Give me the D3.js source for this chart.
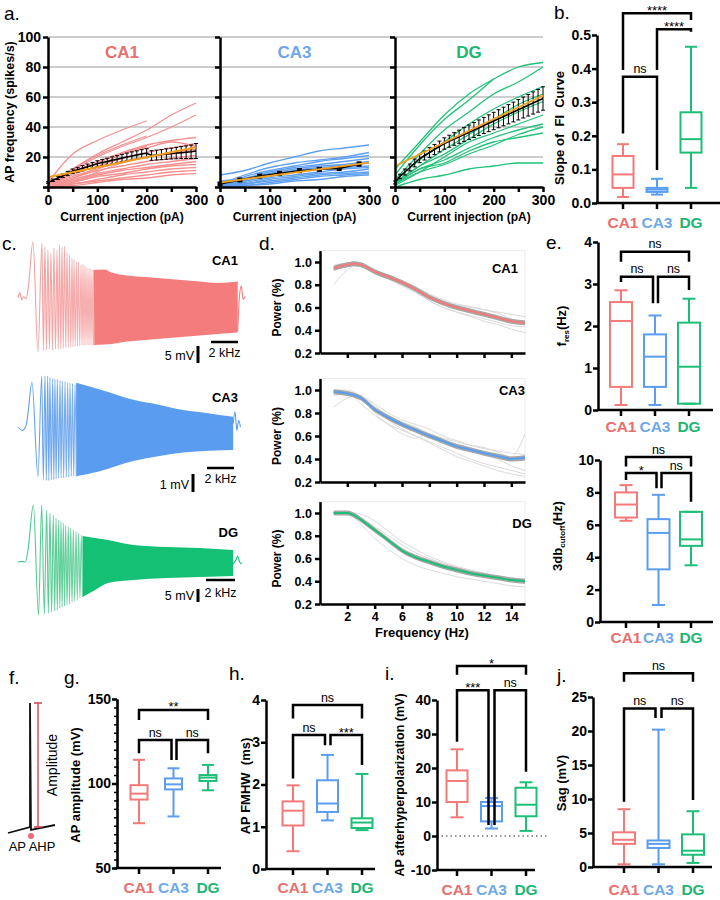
<!DOCTYPE html>
<html>
<head>
<meta charset="utf-8">
<script src="https://cdn.jsdelivr.net/npm/d3@7"></script>
<style>
  body { margin: 0; background: #fff; }
  text { font-family: 'Liberation Sans', Arial, sans-serif; }
</style>
</head>
<body>
<svg id="fig" width="720" height="900"></svg>
<script>
// ---------------- data ----------------
const groups = ["CA1", "CA3", "DG"]

// a. FI curves, single cells sampled every 50 pA
const fiX = [0, 50, 100, 150, 200, 250, 300]
const ca1Cells = [
  [3, 22, 31, 38, 44, null, null],
  [2, 12, 22, 30, 38, 48, 56],
  [2, 11, 20, 27, 33, 40, 48],
  [2, 12, 21, 28, 34, null, null],
  [1, 10, 17, 23, 28, 31, 33],
  [1, 9, 16, 22, 26, 30, 27],
  [1, 8, 14, 19, 23, 26, 29],
  [1, 7, 12, 17, 20, 23, 25],
  [1, 6, 11, 14, 17, 19, 21],
  [0, 5, 9, 12, 15, 17, 19],
  [0, 4, 8, 11, 13, 15, 17],
  [0, 3, 7, 9, 12, 14, 15],
  [0, 2, 5, 8, 10, 12, 13],
  [0, 2, 4, 6, 8, 10, 11],
  [0, 1, 3, 5, 6, 8, 9],
  [1, 6, 13, 22, 27, null, null],
  [0, 3, 10, 16, 20, 22, 24]
]
const ca3Cells = [
  [8, 11, 16, 20, 24, 26, 28],
  [2, 8, 13, 16, 18, 20, 23],
  [1, 7, 11, 14, 17, 19, 21],
  [4, 6, 10, 13, 15, 17, 19],
  [1, 5, 9, 12, 14, 15, 17],
  [1, 4, 8, 11, 13, 14, 16],
  [0, 4, 7, 10, 12, 13, 14],
  [0, 3, 6, 8, 10, 12, 13],
  [0, 2, 5, 7, 9, 10, 12],
  [0, 2, 4, 6, 8, 9, 10],
  [0, 1, 3, 5, 7, 8, 9],
  [0, 1, 2, 4, 5, 7, 8]
]
const dgCells = [
  [12, 30, 48, 62, 72, 80, 83],
  [8, 28, 45, 58, 72, null, null],
  [5, 22, 38, 50, 62, 70, 80],
  [4, 18, 30, 42, 52, 60, 67],
  [3, 14, 25, 35, 45, 55, 62],
  [3, 14, 22, 32, 42, 50, 57],
  [2, 12, 18, 26, 33, 38, 42],
  [2, 10, 15, 22, 28, 35, 40],
  [2, 12, 16, 24, 30, 33, 36],
  [0, 5, 8, 12, 14, 16, 16],
  [1, 10, 20, 30, 36, 42, 48]
]
// group means +- SEM every 10 pA (CA3 every 40 pA)
const meanX10 = [0,10,20,30,40,50,60,70,80,90,100,110,120,130,140,150,160,170,180,190,200,210,220,230,240,250,260,270,280,290,300]
const ca1Mean = [3,4.5,6,7.5,9,10.5,11.5,12.5,13.5,14.5,15.5,16.3,17,17.8,18.5,19.3,20,20.7,21.3,22,22.5,21,21.3,21.6,22,22.3,22.6,22.9,23.2,23.5,24]
const ca1Sem = [0.5,0.8,1,1.2,1.4,1.5,1.6,1.7,1.8,1.9,2,2.1,2.2,2.3,2.4,2.5,2.6,2.7,2.8,2.9,3,3.2,3.3,3.4,3.5,3.6,3.8,4,4.2,4.5,5]
const dgMean = [3,7,10,13,16,19,21,23,25,27,29,30.5,32,33.5,35,36.5,38,39.5,41,42.5,44,45.5,47,48.5,50,51.5,53,54.5,56,57.5,59]
const dgSem = [1,1.5,2,2.3,2.6,2.8,3,3.2,3.4,3.6,3.8,4,4.2,4.4,4.6,4.8,5,5.2,5.4,5.6,5.8,6,6.2,6.4,6.6,6.8,7,7.2,7.4,7.6,7.8]
const ca3MeanX = [0, 40, 80, 120, 160, 200, 240, 280]
const ca3Mean = [2, 4.7, 7.3, 9.1, 10.9, 11.8, 12.4, 15.3]
const ca3Sem = [0.5, 0.8, 1, 1, 1.1, 1.2, 1.2, 1.3]
// linear fits, value at 0 and 300 pA
const ca1Fit = [6.5, 26.5]
const ca3Fit = [3, 16.2]
const dgFit = [14, 61]

// box plots: [min, q1, median, q3, max] for CA1, CA3, DG
const fiSlope = [[0.018, 0.045, 0.085, 0.14, 0.175], [0.025, 0.033, 0.04, 0.045, 0.072], [0.045, 0.15, 0.19, 0.27, 0.465]]
const fRes = [[0.12, 0.55, 2.12, 2.57, 2.85], [0.12, 0.55, 1.27, 1.8, 2.25], [0.15, 0.15, 1.03, 2.08, 2.65]]
const cutoff3db = [[6.25, 6.45, 7.25, 8.0, 8.45], [1.05, 3.25, 5.5, 6.35, 7.85], [3.5, 4.7, 5.1, 6.8, 6.8]]
const apAmp = [[76.5, 90.5, 94, 99, 114], [80.5, 96.5, 99.5, 103, 109], [96, 101.5, 103.5, 105, 111]]
const apFwhm = [[0.42, 1.03, 1.38, 1.6, 1.98], [1.15, 1.35, 1.55, 2.1, 2.7], [0.92, 0.97, 1.1, 1.2, 2.25]]
const apAhp = [[5.5, 10, 16.2, 19.3, 25.5], [2.2, 4.3, 8.8, 10, 11.2], [1.5, 5.8, 9.2, 14.2, 15.8]]
const sagVals = [[0.4, 3.4, 4.0, 5.1, 8.5], [0.4, 2.8, 3.4, 3.9, 20.2], [0.6, 1.8, 2.4, 4.8, 8.2]]

// d. impedance profiles
const freqs = [1, 2, 2.5, 3, 4, 5, 6, 7, 8, 9, 10, 11, 12, 13, 14, 15]
const ca1Power = [0.945, 0.975, 0.985, 0.975, 0.915, 0.87, 0.82, 0.76, 0.69, 0.64, 0.60, 0.57, 0.54, 0.51, 0.48, 0.465]
const ca3Power = [0.985, 0.97, 0.955, 0.93, 0.83, 0.76, 0.70, 0.65, 0.60, 0.555, 0.51, 0.48, 0.45, 0.425, 0.40, 0.41]
const dgPower = [1.0, 1.0, 0.98, 0.94, 0.85, 0.76, 0.67, 0.61, 0.57, 0.53, 0.50, 0.47, 0.45, 0.43, 0.41, 0.40]
const ca1PowerCells = [
  [0.80, 0.93, 0.96, 0.96, 0.90, 0.85, 0.80, 0.74, 0.66, 0.60, 0.56, 0.53, 0.50, 0.47, 0.44, 0.43],
  [0.97, 0.99, 0.99, 0.98, 0.93, 0.88, 0.83, 0.78, 0.72, 0.67, 0.63, 0.61, 0.58, 0.56, 0.54, 0.52],
  [0.93, 0.96, 0.97, 0.96, 0.90, 0.85, 0.79, 0.73, 0.66, 0.60, 0.56, 0.52, 0.48, 0.45, 0.41, 0.38],
  [0.95, 0.97, 0.98, 0.97, 0.92, 0.88, 0.83, 0.78, 0.71, 0.65, 0.62, 0.60, 0.58, 0.55, 0.50, 0.47]
]
const ca3PowerCells = [
  [0.85, 0.93, 0.95, 0.94, 0.80, 0.70, 0.62, 0.58, 0.62, 0.55, 0.50, 0.48, 0.44, 0.40, 0.34, 0.30],
  [1.0, 1.0, 0.98, 0.95, 0.88, 0.80, 0.74, 0.70, 0.66, 0.60, 0.56, 0.52, 0.49, 0.47, 0.45, 0.44],
  [0.97, 0.96, 0.94, 0.88, 0.78, 0.70, 0.65, 0.60, 0.55, 0.50, 0.45, 0.40, 0.36, 0.33, 0.30, 0.27],
  [0.99, 0.98, 0.97, 0.95, 0.86, 0.78, 0.72, 0.68, 0.62, 0.58, 0.55, 0.52, 0.50, 0.46, 0.42, 0.62],
  [0.95, 0.97, 0.96, 0.93, 0.84, 0.74, 0.66, 0.60, 0.54, 0.48, 0.42, 0.38, 0.34, 0.30, 0.27, 0.25]
]
const dgPowerCells = [
  [1.0, 1.0, 1.0, 0.99, 0.93, 0.84, 0.75, 0.68, 0.62, 0.57, 0.53, 0.50, 0.47, 0.45, 0.43, 0.42],
  [1.0, 0.99, 0.96, 0.90, 0.78, 0.68, 0.60, 0.54, 0.50, 0.47, 0.44, 0.42, 0.40, 0.38, 0.36, 0.35],
  [1.0, 1.0, 0.99, 0.96, 0.88, 0.80, 0.72, 0.65, 0.60, 0.56, 0.52, 0.49, 0.46, 0.43, 0.40, 0.38]
]

// c. chirp responses: resolved early extremes [t, mV], envelope of the dense part, and tail
const ca1Early = [[0,0],[0.2,1.8],[0.4,-0.6],[0.6,0.4],[0.9,-0.3],[1.15,4],[1.65,18.7],[2.2,-18],
  [2.64,18.3],[2.8,-17.5],[2.97,17],[3.13,-17.3],[3.3,16],[3.46,-17],[3.63,15],[3.8,-17.3],[3.96,16.7],[4.13,-17],
  [4.3,16],[4.43,-17],[4.57,17.7],[4.71,-17],[4.85,17],[4.98,-16.8],[5.12,17.3],[5.26,-16.5],[5.4,15],[5.53,-16.5],
  [5.67,14.3],[5.81,-16.3],[5.95,13.3],[6.06,-16.3],[6.17,12.7],[6.3,-16],[6.44,12],[6.55,-16],[6.66,12],[6.8,-16],
  [6.94,11],[7.05,-15.8],[7.16,11.3],[7.27,-15.8],[7.38,10.7],[7.49,-15.7],[7.6,10],[7.71,-15.7],[7.82,10],[7.93,-15.6],
  [8.04,9.7],[8.15,-15.6],[8.26,9.3],[8.37,-15.5]]
const ca1Band = {t: [8.3, 9.5, 10.3, 12, 14, 16, 18, 20, 22, 24.2],
  hi: [9.3, 9.5, 8.5, 7.5, 7, 6.5, 6, 5.5, 5, 5.5],
  lo: [-15.7, -15.5, -15.3, -14.5, -14, -13.5, -13, -12.5, -12, -11.5]}
const ca1Tail = [[24.2, -11], [24.4, 1], [24.6, 4], [24.8, -0.5], [25, 0.5]]

const ca3Early = [[0,0],[0.5,-0.2],[0.9,0.1],[1.1,0.8],[1.54,2.65],[2.2,-2.9],
  [2.61,3.0],[2.79,-3.1],[2.97,3.0],[3.12,-3.15],[3.27,3.0],[3.4,-3.15],[3.52,2.9],[3.67,-3.1],[3.82,2.85],[3.95,-3.1],
  [4.07,2.8],[4.2,-3.05],[4.33,2.8],[4.48,-3.0],[4.63,2.75],[4.75,-3.0],[4.88,2.7],[5.03,-3.0],[5.18,2.65],[5.32,-2.95],
  [5.47,2.6],[5.6,-2.95],[5.73,2.6],[5.87,-2.9],[6.0,2.55],[6.14,-2.9],[6.28,2.5],[6.42,-2.9]]
const ca3Band = {t: [6.4, 9.0, 12.7, 15.6, 18.2, 21.1, 23.7],
  hi: [2.6, 2.2, 1.6, 1.3, 1.0, 0.8, 0.6],
  lo: [-2.9, -2.6, -2.0, -1.7, -1.5, -1.4, -1.35]}
const ca3Tail = [[23.7, 0.2], [23.9, 0.9], [24.1, -0.2], [24.3, 0.4], [24.5, 0]]

const dgEarly = [[0,0],[0.5,0.3],[0.8,0],[1.1,6],[1.69,28.5],[2.26,-26.5],
  [2.61,28.5],[2.9,-26],[3.16,26],[3.34,-25.5],[3.52,24.3],[3.7,-25],[3.89,23.5],[4.04,-24.5],[4.19,22],[4.33,-24],
  [4.48,21],[4.61,-23],[4.74,20.2],[4.86,-22.5],[4.99,19.5],[5.12,-22],[5.25,18.5],[5.4,-21.5],[5.54,17.7],[5.67,-21],
  [5.81,17],[5.95,-20],[6.09,16],[6.24,-19.5],[6.39,15.2],[6.53,-19],[6.68,14.5],[6.82,-18],[6.97,13.5],[7.1,-17.5]]
const dgBand = {t: [7.1, 8.5, 9.9, 12.7, 16.4, 20.0, 23.7],
  hi: [13, 12, 11, 8.5, 7.5, 7, 6],
  lo: [-17.5, -14, -10.5, -9, -8, -7.5, -7]}
const dgTail = [[23.7, -1], [24, 1], [24.2, 3], [24.4, 0], [24.65, -1]]

// ---------------- drawing ----------------
const svg = d3.select("#fig")
const lineCol = {CA1: "#f47a7a", CA3: "#5b9df0", DG: "#1dbf76"}
const textCol = {CA1: "#e96e6e", CA3: "#6ea8e8", DG: "#1fb673"}

function styleAxis(g, w, fs) {
  g.select(".domain").attr("stroke", "#000").attr("stroke-width", w)
  g.selectAll(".tick line").attr("stroke", "#000").attr("stroke-width", w)
  g.selectAll(".tick text").attr("font-size", fs).attr("font-weight", "bold").attr("fill", "#000")
}

function label(x, y, s, size, opts) {
  opts = opts || {}
  return svg.append("text")
    .attr("x", x).attr("y", y)
    .attr("font-size", size)
    .attr("font-weight", opts.bold ? "bold" : "normal")
    .attr("text-anchor", opts.anchor || "start")
    .attr("fill", opts.fill || "#000")
    .text(s)
}

function vlabel(x, y, s, size) {
  return svg.append("text")
    .attr("transform", "translate(" + x + "," + y + ") rotate(-90)")
    .attr("text-anchor", "middle")
    .attr("font-size", size)
    .attr("font-weight", "bold")
    .attr("xml:space", "preserve")
    .text(s)
}

// panel letters
label(4, 20, "a.", 19)
label(554, 19, "b.", 19)
label(2, 250, "c.", 19)
label(259, 250, "d.", 19)
label(546, 249, "e.", 19)
label(9, 684, "f.", 19)
label(64, 684, "g.", 19)
label(229, 680, "h.", 19)
label(385, 680, "i.", 19)
label(557, 682, "j.", 19)

// ---------- a. FI curves ----------
let yFI = d3.scaleLinear().domain([0, 100]).range([187, 37])
let fiPanels = [
  {name: "CA1", x0: 48, x1: 196, cells: ca1Cells, mx: meanX10, mean: ca1Mean, sem: ca1Sem, fit: ca1Fit, cellColor: "#f59090", showY: true},
  {name: "CA3", x0: 220, x1: 369, cells: ca3Cells, mx: ca3MeanX, mean: ca3Mean, sem: ca3Sem, fit: ca3Fit, cellColor: "#5fa1f0", marker: true},
  {name: "DG", x0: 395, x1: 543, cells: dgCells, mx: meanX10, mean: dgMean, sem: dgSem, fit: dgFit, cellColor: "#22c27a"}
]

svg.append("g").selectAll("line")
  .data([20, 40, 60, 80, 100])
  .join("line")
    .attr("x1", 48).attr("x2", 543)
    .attr("y1", d => yFI(d)).attr("y2", d => yFI(d))
    .attr("stroke", "#9b9b9b").attr("stroke-width", 1)

fiPanels.forEach(p => {
  let x = d3.scaleLinear().domain([0, 300]).range([p.x0, p.x1])
  let g = svg.append("g")
  let cellLine = d3.line()
    .defined(d => d[1] != null)
    .x(d => x(d[0])).y(d => yFI(d[1]))
    .curve(d3.curveMonotoneX)

  g.selectAll(".cell")
    .data(p.cells)
    .join("path")
      .attr("d", c => cellLine(c.map((v, i) => [fiX[i], v])))
      .attr("fill", "none")
      .attr("stroke", p.cellColor)
      .attr("stroke-width", 1.3)

  let pts = p.mean.map((v, i) => ({x: p.mx[i], y: v, e: p.sem[i]}))
  g.append("path")
    .attr("d", d3.line().x(d => x(d.x)).y(d => yFI(d.y))(pts))
    .attr("fill", "none").attr("stroke", "#000").attr("stroke-width", 1.5)
  let eb = g.selectAll(".eb").data(pts).join("g")
  eb.append("line")
    .attr("x1", d => x(d.x)).attr("x2", d => x(d.x))
    .attr("y1", d => yFI(d.y - d.e)).attr("y2", d => yFI(d.y + d.e))
    .attr("stroke", "#000").attr("stroke-width", 1)
  eb.append("line")
    .attr("x1", d => x(d.x) - 2).attr("x2", d => x(d.x) + 2)
    .attr("y1", d => yFI(d.y + d.e)).attr("y2", d => yFI(d.y + d.e))
    .attr("stroke", "#000").attr("stroke-width", 1)
  eb.append("line")
    .attr("x1", d => x(d.x) - 2).attr("x2", d => x(d.x) + 2)
    .attr("y1", d => yFI(d.y - d.e)).attr("y2", d => yFI(d.y - d.e))
    .attr("stroke", "#000").attr("stroke-width", 1)
  if (p.marker) {
    eb.append("rect")
      .attr("x", d => x(d.x) - 2.5).attr("y", d => yFI(d.y) - 2.5)
      .attr("width", 5).attr("height", 5).attr("fill", "#000")
  }

  g.append("line")
    .attr("x1", x(0)).attr("x2", x(300))
    .attr("y1", yFI(p.fit[0])).attr("y2", yFI(p.fit[1]))
    .attr("stroke", "#f0a020").attr("stroke-width", 1.8)

  let gx = g.append("g")
    .attr("transform", "translate(0," + yFI(0) + ")")
    .call(d3.axisBottom(x).tickValues([0, 50, 100, 150, 200, 250, 300]).tickSize(5).tickSizeOuter(0)
      .tickFormat(d => d % 100 === 0 ? d : ""))
  styleAxis(gx, 2.5, 14)
  let gy = g.append("g")
    .attr("transform", "translate(" + p.x0 + ",0)")
    .call(d3.axisLeft(yFI).tickValues([0, 20, 40, 60, 80, 100]).tickSize(5).tickSizeOuter(0).tickPadding(2)
      .tickFormat(d => p.showY && d > 0 ? d : ""))
  styleAxis(gy, 2.5, 14)

  label((p.x0 + p.x1) / 2, 58, p.name, 17, {bold: true, anchor: "middle", fill: textCol[p.name]})
  label((p.x0 + p.x1) / 2, 221, "Current injection (pA)", 12, {bold: true, anchor: "middle"})
})
vlabel(14, 112, "AP frequency (spikes/s)", 12.5)

// ---------- box plot panels ----------
function boxPanel(cfg) {
  let g = svg.append("g")
  let y = d3.scaleLinear().domain(cfg.domain).range(cfg.yRange)
  let x = d3.scalePoint().domain(groups).range(cfg.xRange)
  let bw = cfg.boxW, cw = cfg.capW

  cfg.data.forEach((d, i) => {
    let name = groups[i], cx = x(name), c = lineCol[name]
    let lo = d[0], q1 = d[1], med = d[2], q3 = d[3], hi = d[4]
    let s = {stroke: c, "stroke-width": 2, fill: "none"}
    let add = (tag, attrs) => {
      let el = g.append(tag)
      Object.entries(Object.assign({}, s, attrs)).forEach(([k, v]) => el.attr(k, v))
    }
    add("line", {x1: cx, x2: cx, y1: y(lo), y2: y(q1)})
    add("line", {x1: cx, x2: cx, y1: y(q3), y2: y(hi)})
    add("line", {x1: cx - cw / 2, x2: cx + cw / 2, y1: y(lo), y2: y(lo)})
    add("line", {x1: cx - cw / 2, x2: cx + cw / 2, y1: y(hi), y2: y(hi)})
    add("rect", {x: cx - bw / 2, y: y(q3), width: bw, height: Math.max(0.5, y(q1) - y(q3))})
    add("line", {x1: cx - bw / 2, x2: cx + bw / 2, y1: y(med), y2: y(med)})
  })

  if (cfg.zeroLine) {
    g.append("line")
      .attr("x1", cfg.axisX).attr("x2", cfg.zeroLine)
      .attr("y1", y(0)).attr("y2", y(0))
      .attr("stroke", "#333").attr("stroke-width", 1.2)
      .attr("stroke-dasharray", "1.5,3")
  }

  if (cfg.minor) {
    let gm = g.append("g")
      .attr("transform", "translate(" + cfg.axisX + ",0)")
      .call(d3.axisLeft(y).tickValues(cfg.minor).tickSize(3).tickSizeOuter(0).tickFormat(""))
    styleAxis(gm, 1.5, 12)
  }
  let gy = g.append("g")
    .attr("transform", "translate(" + cfg.axisX + ",0)")
    .call(d3.axisLeft(y).tickValues(cfg.ticks).tickSize(5).tickPadding(1).tickSizeOuter(0).tickFormat(cfg.fmt || (d => d)))
  styleAxis(gy, 2.5, 14)

  let y0 = y(cfg.domain[0])
  g.append("line")
    .attr("x1", cfg.axisX - 1).attr("x2", cfg.xEnd)
    .attr("y1", y0).attr("y2", y0)
    .attr("stroke", "#000").attr("stroke-width", 2.5)
  groups.forEach(name => {
    g.append("line")
      .attr("x1", x(name)).attr("x2", x(name))
      .attr("y1", y0).attr("y2", y0 + 6)
      .attr("stroke", "#000").attr("stroke-width", 2.5)
    g.append("text")
      .attr("x", x(name)).attr("y", cfg.catY)
      .attr("text-anchor", "middle")
      .attr("font-size", 15.5).attr("font-weight", "bold")
      .attr("fill", textCol[name])
      .text(name)
  })

  cfg.brackets.forEach(b => {
    let xa = x(b.a) + (b.da || 0), xb = x(b.b) + (b.db || 0)
    g.append("path")
      .attr("d", "M" + xa + "," + y(b.legA) + "V" + y(b.top) + "H" + xb + "V" + y(b.legB))
      .attr("fill", "none").attr("stroke", "#000").attr("stroke-width", 2.5)
    let star = b.label[0] === "*"
    g.append("text")
      .attr("x", (xa + xb) / 2)
      .attr("y", star ? y(b.top) + 1.5 : y(b.top) - 3.5)
      .attr("text-anchor", "middle")
      .attr("font-size", star ? 13 : 12.5)
      .text(b.label)
  })
  return {g: g, y: y}
}

// b. slope of FI curve
boxPanel({
  domain: [0, 0.5], yRange: [203, 35], xRange: [623, 691], axisX: 597, xEnd: 720,
  data: fiSlope, boxW: 21, capW: 12, ticks: [0, 0.1, 0.2, 0.3, 0.4, 0.5], fmt: d3.format(".1f"), catY: 228,
  brackets: [
    {a: "CA1", b: "CA3", top: 0.376, legA: 0.207, legB: 0.098, label: "ns"},
    {a: "CA3", b: "DG", top: 0.517, legA: 0.396, legB: 0.51, label: "****"},
    {a: "CA1", b: "DG", top: 0.565, legA: 0.396, legB: 0.545, label: "****"}
  ]
})
vlabel(564, 128, "Slope of  FI  Curve", 13)

// e. resonance frequency
boxPanel({
  domain: [0, 4], yRange: [410, 242], xRange: [621, 689], axisX: 598, xEnd: 713,
  data: fRes, boxW: 22, capW: 13, ticks: [0, 1, 2, 3, 4], catY: 432,
  brackets: [
    {a: "CA1", b: "CA3", db: -2, top: 3.17, legA: 3.05, legB: 2.54, label: "ns"},
    {a: "CA3", b: "DG", da: 3, top: 3.17, legA: 2.54, legB: 2.86, label: "ns"},
    {a: "CA1", b: "DG", top: 3.77, legA: 3.53, legB: 3.53, label: "ns"}
  ]
})
let fr = svg.append("text")
  .attr("transform", "translate(566,326) rotate(-90)")
  .attr("text-anchor", "middle").attr("font-size", 13).attr("font-weight", "bold")
fr.append("tspan").text("f")
fr.append("tspan").attr("font-size", 8).attr("dy", 3).text("res")
fr.append("tspan").attr("dy", -3).text("(Hz)")

// e. 3 dB cutoff
boxPanel({
  domain: [0, 10], yRange: [622, 460], xRange: [626, 691], axisX: 600, xEnd: 713,
  data: cutoff3db, boxW: 22, capW: 13, ticks: [0, 2, 4, 6, 8, 10], catY: 643,
  brackets: [
    {a: "CA1", b: "CA3", db: -2, top: 9.19, legA: 8.77, legB: 8.26, label: "*"},
    {a: "CA3", b: "DG", da: 3, top: 9.19, legA: 8.26, legB: 7.43, label: "ns"},
    {a: "CA1", b: "DG", top: 10.18, legA: 9.6, legB: 9.6, label: "ns"}
  ]
})
let cu = svg.append("text")
  .attr("transform", "translate(562,536) rotate(-90)")
  .attr("text-anchor", "middle").attr("font-size", 13).attr("font-weight", "bold")
cu.append("tspan").text("3db")
cu.append("tspan").attr("font-size", 8).attr("dy", 3).text("cutoff")
cu.append("tspan").attr("dy", -3).text("(Hz)")

// g. AP amplitude
boxPanel({
  domain: [50, 150], yRange: [868, 699], xRange: [139, 208], axisX: 117, xEnd: 221,
  data: apAmp, boxW: 17, capW: 12, ticks: [50, 100, 150], minor: d3.range(50, 151, 5), catY: 893,
  brackets: [
    {a: "CA1", b: "CA3", db: -2, top: 125.7, legA: 117.9, legB: 113.9, label: "ns"},
    {a: "CA3", b: "DG", da: 3, top: 125.7, legA: 113.9, legB: 117.9, label: "ns"},
    {a: "CA1", b: "DG", top: 143.5, legA: 137.6, legB: 137.6, label: "**"}
  ]
})
vlabel(80, 785, "AP amplitude (mV)", 13)

// h. AP FWHM
boxPanel({
  domain: [0, 4], yRange: [869, 700], xRange: [293, 362], axisX: 266, xEnd: 375,
  data: apFwhm, boxW: 21, capW: 13, ticks: [0, 1, 2, 3, 4], catY: 893,
  brackets: [
    {a: "CA1", b: "CA3", db: -2.5, top: 3.17, legA: 2.14, legB: 2.93, label: "ns"},
    {a: "CA3", b: "DG", da: 3, top: 3.17, legA: 2.93, legB: 2.46, label: "***"},
    {a: "CA1", b: "DG", top: 3.88, legA: 3.56, legB: 3.56, label: "ns"}
  ]
})
vlabel(250, 786, "AP FMHW  (ms)", 13)

// i. AHP
boxPanel({
  domain: [-10, 40], yRange: [870, 700], xRange: [457, 526], axisX: 437, xEnd: 535, zeroLine: 547,
  data: apAhp, boxW: 21, capW: 13, ticks: [-10, 0, 10, 20, 30, 40], catY: 895,
  brackets: [
    {a: "CA1", b: "CA3", db: -3, top: 42.9, legA: 27.7, legB: 3.2, label: "***"},
    {a: "CA3", b: "DG", da: 3, top: 42.9, legA: 3.2, legB: 18.9, label: "ns"},
    {a: "CA1", b: "DG", top: 50, legA: 47.4, legB: 47.4, label: "*"}
  ]
})
vlabel(404, 785, "AP afterhyperpolarization (mV)", 12.5)

// j. sag
boxPanel({
  domain: [0, 25], yRange: [867, 697], xRange: [624, 693], axisX: 593, xEnd: 712,
  data: sagVals, boxW: 22, capW: 13, ticks: [0, 5, 10, 15, 20, 25], catY: 895,
  brackets: [
    {a: "CA1", b: "CA3", db: -3, top: 23.3, legA: 9.6, legB: 21.9, label: "ns"},
    {a: "CA3", b: "DG", da: 3, top: 23.3, legA: 21.9, legB: 9.85, label: "ns"},
    {a: "CA1", b: "DG", top: 28.5, legA: 27.25, legB: 27.25, label: "ns"}
  ]
})
vlabel(566, 783, "Sag (mV)", 13)

// ---------- c. chirp traces ----------
let trX = d3.scaleLinear().domain([0, 25]).range([18, 245])
let defs = svg.append("defs")
function drawTrace(cfg) {
  let grad = defs.append("linearGradient")
    .attr("id", cfg.id).attr("gradientUnits", "userSpaceOnUse")
    .attr("x1", 18).attr("x2", 245).attr("y1", 0).attr("y2", 0)
  cfg.stops.forEach(s => grad.append("stop").attr("offset", s[0]).attr("stop-color", s[1]))
  let y = d3.scaleLinear().domain([0, 1]).range([cfg.base, cfg.base - cfg.pxPerMv])
  let line = d3.line().x(d => trX(d[0])).y(d => y(d[1])).curve(d3.curveMonotoneX)
  let band = cfg.band.t.map((t, i) => ({t: t, hi: cfg.band.hi[i], lo: cfg.band.lo[i]}))
  svg.append("path")
    .attr("d", d3.area().x(d => trX(d.t)).y0(d => y(d.lo)).y1(d => y(d.hi)).curve(d3.curveMonotoneX)(band))
    .attr("fill", cfg.bandColor)
  svg.append("path")
    .attr("d", line(cfg.early))
    .attr("fill", "none").attr("stroke", "url(#" + cfg.id + ")").attr("stroke-width", 1.1)
  svg.append("path")
    .attr("d", line(cfg.tail))
    .attr("fill", "none").attr("stroke", cfg.bandColor).attr("stroke-width", 1.1)
}
drawTrace({id: "gCA1", early: ca1Early, band: ca1Band, tail: ca1Tail, base: 298, pxPerMv: 3,
  bandColor: "#f47c7c", stops: [[0, "#f49a9a"], [0.35, "#f7b3b3"], [0.55, "#f59494"], [1, "#f47c7c"]]})
drawTrace({id: "gCA3", early: ca3Early, band: ca3Band, tail: ca3Tail, base: 427, pxPerMv: 17,
  bandColor: "#5a9cf0", stops: [[0, "#5a9cf0"], [0.35, "#8bb8ef"], [0.55, "#6aa6f0"], [1, "#5a9cf0"]]})
drawTrace({id: "gDG", early: dgEarly, band: dgBand, tail: dgTail, base: 562, pxPerMv: 2,
  bandColor: "#14c074", stops: [[0, "#3ec886"], [0.35, "#7fd6ab"], [0.55, "#2cc47e"], [1, "#14c074"]]})

label(238, 265, "CA1", 13, {bold: true, anchor: "end"})
label(238, 402, "CA3", 13, {bold: true, anchor: "end"})
label(238, 537, "DG", 13, {bold: true, anchor: "end"})

function scaleBar(vx, vy0, vy1, hx0, hx1, hy, mvText, textY, khzY) {
  svg.append("line").attr("x1", vx).attr("x2", vx).attr("y1", vy0).attr("y2", vy1)
    .attr("stroke", "#000").attr("stroke-width", 3)
  svg.append("line").attr("x1", hx0).attr("x2", hx1).attr("y1", hy).attr("y2", hy)
    .attr("stroke", "#000").attr("stroke-width", 2.5)
  label(vx - 4, textY, mvText, 12.5, {anchor: "end"})
  label((hx0 + hx1) / 2, khzY, "2 kHz", 12.5, {anchor: "middle"})
}
scaleBar(198, 346, 363, 211, 238, 342, "5 mV", 360, 357)
scaleBar(193, 474, 492, 207, 234, 468, "1 mV", 489, 483)
scaleBar(198, 589, 602, 206, 235, 580, "5 mV", 600, 597)

// ---------- d. power spectra ----------
let fx = d3.scaleLinear().domain([0, 15]).range([320, 525])
let powerPanels = [
  {name: "CA1", top: 262, bottom: 353, mean: ca1Power, cells: ca1PowerCells, lx: 505, ly: 273},
  {name: "CA3", top: 390, bottom: 482, mean: ca3Power, cells: ca3PowerCells, lx: 512, ly: 395},
  {name: "DG", top: 513, bottom: 604, mean: dgPower, cells: dgPowerCells, lx: 522, ly: 528, xLabels: true}
]
powerPanels.forEach(p => {
  let y = d3.scaleLinear().domain([0.2, 1.0]).range([p.bottom, p.top])
  let g = svg.append("g")
  g.append("rect")
    .attr("x", fx(0)).attr("y", y(1.1)).attr("width", fx(15) - fx(0)).attr("height", y(0.2) - y(1.1))
    .attr("fill", "none").attr("stroke", "#ececec").attr("stroke-width", 1)
  let line = d3.line().x((d, i) => fx(freqs[i])).y(d => y(d)).curve(d3.curveMonotoneX)
  g.selectAll(".pc").data(p.cells).join("path")
    .attr("d", d => line(d))
    .attr("fill", "none").attr("stroke", "#d6d6d6").attr("stroke-width", 0.9)
  g.append("path")
    .attr("d", d3.area().x((d, i) => fx(freqs[i])).y0(d => y(d - 0.022)).y1(d => y(d + 0.022)).curve(d3.curveMonotoneX)(p.mean))
    .attr("fill", "#a6a6a6")
  g.append("path")
    .attr("d", line(p.mean))
    .attr("fill", "none").attr("stroke", lineCol[p.name]).attr("stroke-width", 2)

  let gy = g.append("g")
    .attr("transform", "translate(" + fx(0) + ",0)")
    .call(d3.axisLeft(y.copy().domain([0.2, 1.1]).range([p.bottom, y(1.1)]))
      .tickValues([0.2, 0.4, 0.6, 0.8, 1.0]).tickSize(5).tickSizeOuter(0).tickFormat(d3.format(".1f")))
  styleAxis(gy, 2.5, 12.5)
  let gx = g.append("g")
    .attr("transform", "translate(0," + p.bottom + ")")
    .call(d3.axisBottom(fx).tickValues([2, 4, 6, 8, 10, 12, 14]).tickSize(5).tickSizeOuter(0)
      .tickFormat(p.xLabels ? (d => d) : ""))
  styleAxis(gx, 2.5, 12.5)
  label(p.lx, p.ly, p.name, 13, {bold: true, anchor: "middle"})
  vlabel(281, (p.top + p.bottom) / 2, "Power (%)", 12)
})
label(422, 637, "Frequency (Hz)", 13, {bold: true, anchor: "middle"})

// ---------- f. schematic ----------
svg.append("path")
  .attr("d", "M8,833 L30,827 L30,703 L31,830 L55,825")
  .attr("fill", "none").attr("stroke", "#111").attr("stroke-width", 1.8)
svg.append("path")
  .attr("d", "M34,703 H42 M38,703 V827 M34,827 H42")
  .attr("fill", "none").attr("stroke", "#d8404f").attr("stroke-width", 1.4)
svg.append("circle").attr("cx", 31).attr("cy", 836).attr("r", 3).attr("fill", "#f06a78")
svg.append("text")
  .attr("transform", "translate(57,765) rotate(-90)")
  .attr("text-anchor", "middle").attr("font-size", 14)
  .text("Amplitude")
label(32, 851, "AP AHP", 13, {anchor: "middle"})
</script>
</body>
</html>
